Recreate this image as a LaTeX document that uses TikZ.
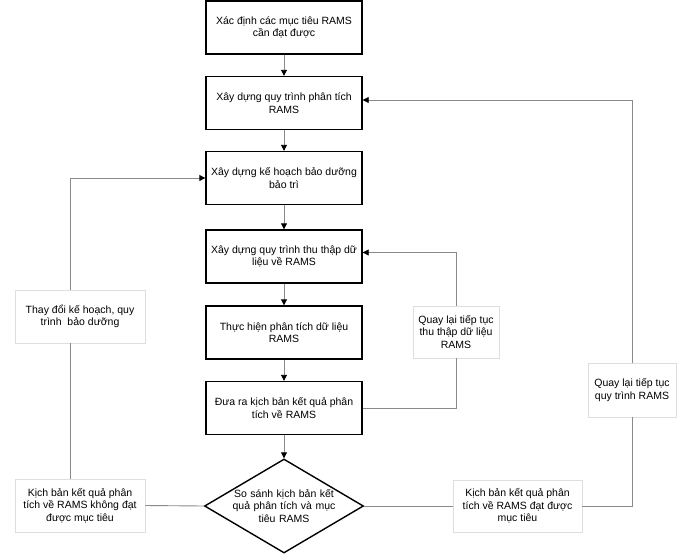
\documentclass[tikz,border=0pt]{standalone}
\usepackage{fontspec}
\setmainfont{Liberation Sans}
\usetikzlibrary{arrows.meta,shapes.geometric}
\definecolor{linkgray}{RGB}{138,138,138}
\definecolor{notegray}{RGB}{222,222,222}

\begin{document}
\begin{tikzpicture}[x=1pt,y=-1pt,
  font=\fontsize{10.5}{12.5}\selectfont,
  stepbox/.style={draw,line width=1.4pt,minimum width=156,minimum height=53,align=center},
  notebox/.style={draw=notegray,fill=white,line width=.6pt,align=center},
  decision/.style={draw,line width=1.4pt,shape=diamond,aspect=1.69,minimum width=159,minimum height=94,
    inner xsep=-4,inner ysep=0,text width=104,align=center},
  link/.style={draw=linkgray,line width=.9pt},
  arr/.style={link,-{Triangle[length=6,width=6,color=black]}}]
 \useasboundingbox(0,0)rectangle(680,555);
 % main chain, one column
 \node[stepbox](goal)at(284,27.5){Xác định các mục tiêu RAMS\\cần đạt được};
 \node[stepbox](proc)at(284,103){Xây dựng quy trình phân tích\\RAMS};
 \node[stepbox](plan)at(284,178){Xây dựng kế hoạch bảo dưỡng\\bảo trì};
 \node[stepbox](collect)at(284,256.5){Xây dựng quy trình thu thập dữ\\liệu về RAMS};
 \node[stepbox](analyse)at(284,332.5){Thực hiện phân tích dữ liệu\\RAMS};
 \node[stepbox](scenario)at(284,408){Đưa ra kịch bản kết quả phân\\tích về RAMS};
 \node[decision](cmp)at(284,506){So sánh kịch bản kết\\quả phân tích và mục\\tiêu RAMS};
 % labels sitting on the feedback lines
 \node[notebox,minimum width=130,minimum height=53](nofail)at(80,505.5){Kịch bản kết quả phân\\tích về RAMS không đạt\\được mục tiêu};
 \node[notebox,minimum width=130,minimum height=53](change)at(80,316.5){Thay đổi kế hoạch, quy\\trình \ bảo dưỡng};
 \node[notebox,minimum width=129,minimum height=52](pass)at(517.5,506){Kịch bản kết quả phân\\tích về RAMS đạt được\\mục tiêu};
 \node[notebox,minimum width=88,minimum height=54](backproc)at(632,390){Quay lại tiếp tục\\quy trình RAMS};
 \node[notebox,minimum width=86,minimum height=52](backdata)at(456,332){Quay lại tiếp tục\\thu thập dữ liệu\\RAMS};

 \draw[arr](goal)--(proc);
 \draw[arr](proc)--(plan);
 \draw[arr](plan)--(collect);
 \draw[arr](collect)--(analyse);
 \draw[arr](analyse)--(scenario);
 \draw[arr](scenario)--(cmp);

 \draw[link](cmp.west)--(nofail.east);
 \draw[link]([xshift=-10]nofail.north)--([xshift=-10]change.south);
 \draw[arr]([xshift=-10]change.north)|-(plan.west);

 \draw[link](cmp.east)--(pass.west);
 \draw[link](pass.east)-|(backproc.south);
 \draw[arr](backproc.north)|-([yshift=3]proc.east);

 \draw[link](scenario.east)-|(backdata.south);
 \draw[arr](backdata.north)|-([yshift=4]collect.east);
\end{tikzpicture}
\end{document}
